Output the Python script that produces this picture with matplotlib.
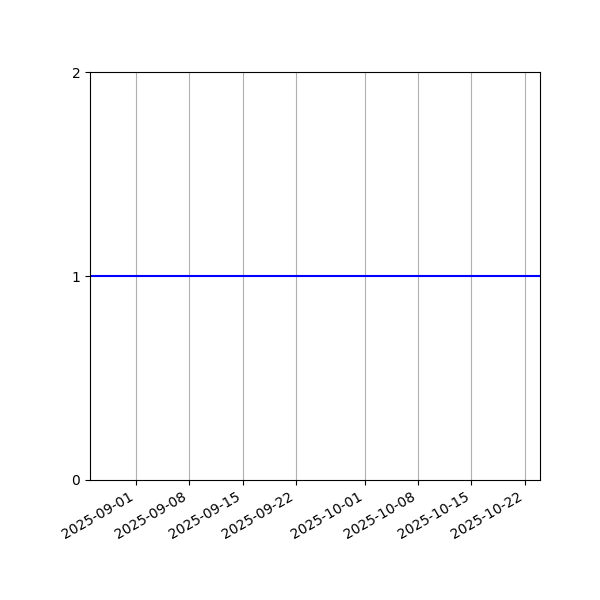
import numpy as np
import pandas as pd
import matplotlib
matplotlib.use("Agg")
import matplotlib.pyplot as plt
import matplotlib.dates as mdates

dates = pd.date_range("2025-08-26", "2025-10-24", freq="D")
values = [1] * len(dates)

fig, ax = plt.subplots(figsize=(6, 6), dpi=100)
ax.plot(dates, values, color="blue")
ax.set_xlim(dates[0], dates[-1])
ax.set_ylim(0, 2)
ax.set_yticks([0, 1, 2])
ax.xaxis.set_major_locator(mdates.DayLocator(bymonthday=[1, 8, 15, 22]))
ax.xaxis.set_major_formatter(mdates.DateFormatter("%Y-%m-%d"))
ax.grid(axis="x")
fig.autofmt_xdate()
fig.subplots_adjust(left=0.15, right=0.9, top=0.88, bottom=0.2)
fig.savefig("out.png")
